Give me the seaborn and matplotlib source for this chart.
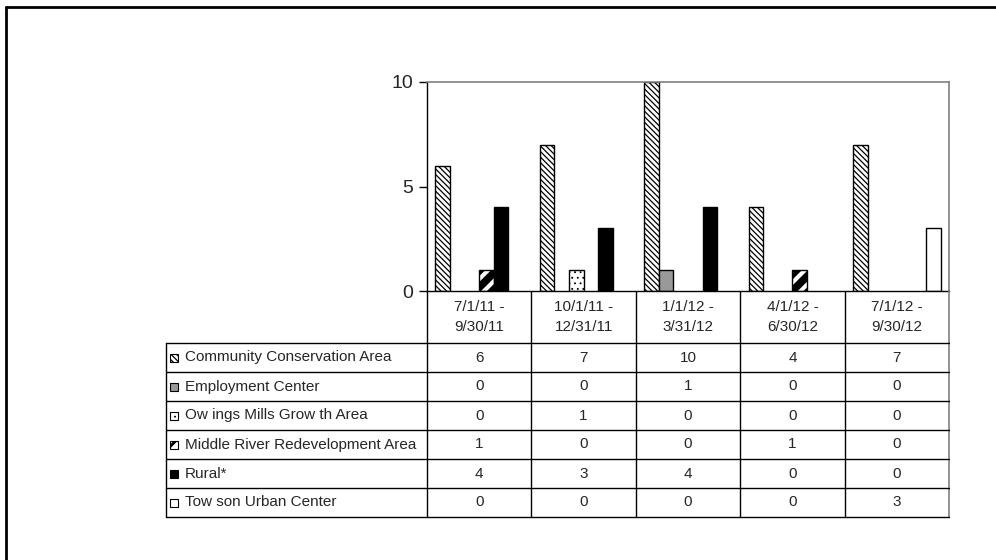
import matplotlib
matplotlib.use("Agg")
import matplotlib.pyplot as plt
from matplotlib.lines import Line2D
from matplotlib.patches import Rectangle
import seaborn as sns
import pandas as pd

# ---- data ----
periods = ["7/1/11 -\n9/30/11", "10/1/11 -\n12/31/11", "1/1/12 -\n3/31/12",
           "4/1/12 -\n6/30/12", "7/1/12 -\n9/30/12"]
areas = ["Community Conservation Area", "Employment Center",
         "Ow ings Mills Grow th Area", "Middle River Redevelopment Area",
         "Rural*", "Tow son Urban Center"]
community = [6, 7, 10, 4, 7]
employment = [0, 0, 1, 0, 0]
owings = [0, 1, 0, 0, 0]
middle_river = [1, 0, 0, 1, 0]
rural = [4, 3, 4, 0, 0]
towson = [0, 0, 0, 0, 3]
yticks = [0, 5, 10]

series = [community, employment, owings, middle_river, rural, towson]
rows = []
for a, vals in zip(areas, series):
    for p, v in zip(periods, vals):
        rows.append({"period": p, "area": a, "count": v})
df = pd.DataFrame(rows)

# styles per series: (facecolor, hatch, hatch_lw)
styles = [("white", "\\\\\\\\\\\\", 0.9),
          ("#999999", None, 1.0),
          ("white", "...", 0.6),
          ("white", "//", 5.5),
          ("black", None, 1.0),
          ("white", None, 1.0)]

sns.set_style("white")
plt.rcParams["font.family"] = ["Liberation Sans", "DejaVu Sans"]

W, H = 996, 560
fig = plt.figure(figsize=(W / 100, H / 100), dpi=100)

def fx(px):
    return px / W

def fy(py):
    return 1 - py / H

L, R, T, B = 427, 949, 82, 291
ax = fig.add_axes([fx(L), fy(B), fx(R) - fx(L), fy(T) - fy(B)])

sns.barplot(data=df, x="period", y="count", hue="area", order=periods,
            hue_order=areas, ax=ax, width=0.84, legend=False,
            palette=["white"] * 6, saturation=1, errorbar=None)

for cont, (fc, hatch, hlw) in zip(ax.containers, styles):
    for bar in cont:
        bar.set_facecolor(fc)
        bar.set_edgecolor("black")
        bar.set_linewidth(1.0)
        if bar.get_height() == 0:
            bar.set_visible(False)
        if hatch:
            bar.set_hatch(hatch)
            try:
                bar.set_hatch_linewidth(hlw)
            except Exception:
                pass

ax.set_xlim(-0.5, 4.5)
ax.set_ylim(0, 10)
ax.set_yticks(yticks)
ax.set_yticklabels([str(t) for t in yticks], fontsize=14)
ax.tick_params(axis="y", direction="out", length=6, width=1, color="black",
               left=True, pad=4)
ax.set_xticks([])
ax.set_xlabel("")
ax.set_ylabel("")
for s in ["top", "right"]:
    ax.spines[s].set_color("#808080")
    ax.spines[s].set_linewidth(1.2)
for s in ["left", "bottom"]:
    ax.spines[s].set_color("black")
    ax.spines[s].set_linewidth(1.0)

# ---- data table ----
def line(x0, y0, x1, y1, color="black", lw=1.0):
    fig.add_artist(Line2D([fx(x0), fx(x1)], [fy(y0), fy(y1)],
                          transform=fig.transFigure, color=color, lw=lw))

hdr_top, tbl_top, row_h = 291, 343, 29
n_rows = len(areas)
tbl_bot = tbl_top + n_rows * row_h
lab_left = 166
col_w = (R - L) / len(periods)
col_edges = [L + k * col_w for k in range(len(periods) + 1)]
FS = 11

# verticals
line(L, hdr_top, L, tbl_bot)
for xe in col_edges[1:-1]:
    line(xe, hdr_top, xe, tbl_bot)
line(R, hdr_top, R, tbl_bot, color="#808080", lw=1.2)
line(lab_left, tbl_top, lab_left, tbl_bot)
# horizontals
for r in range(n_rows + 1):
    line(lab_left, tbl_top + r * row_h, R, tbl_top + r * row_h)

# header labels
for k, p in enumerate(periods):
    cx = (col_edges[k] + col_edges[k + 1]) / 2
    l1, l2 = p.split("\n")
    fig.text(fx(cx), fy(311), l1, ha="center", va="baseline", fontsize=FS)
    fig.text(fx(cx), fy(331), l2, ha="center", va="baseline", fontsize=FS)

# rows
for r, (a, vals, st) in enumerate(zip(areas, series, styles)):
    cy = tbl_top + r * row_h + row_h / 2
    base = cy + 4
    fc, hatch, hlw = st
    key = Rectangle((fx(170), fy(cy + 4)), fx(8), 8 / H,
                    transform=fig.transFigure, facecolor=fc,
                    edgecolor="black", lw=0.8, hatch=hatch if hatch else None)
    if hatch:
        try:
            key.set_hatch_linewidth(min(hlw, 2.0))
        except Exception:
            pass
    fig.add_artist(key)
    fig.text(fx(185), fy(base), a, ha="left", va="baseline", fontsize=FS)
    for k, v in enumerate(vals):
        cx = (col_edges[k] + col_edges[k + 1]) / 2
        fig.text(fx(cx), fy(base), str(v), ha="center", va="baseline",
                 fontsize=FS)

# outer frame (top and left)
line(6, 7, W, 7, lw=2)
line(6, 7, 6, H, lw=2)

fig.savefig("out.png", dpi=100)
